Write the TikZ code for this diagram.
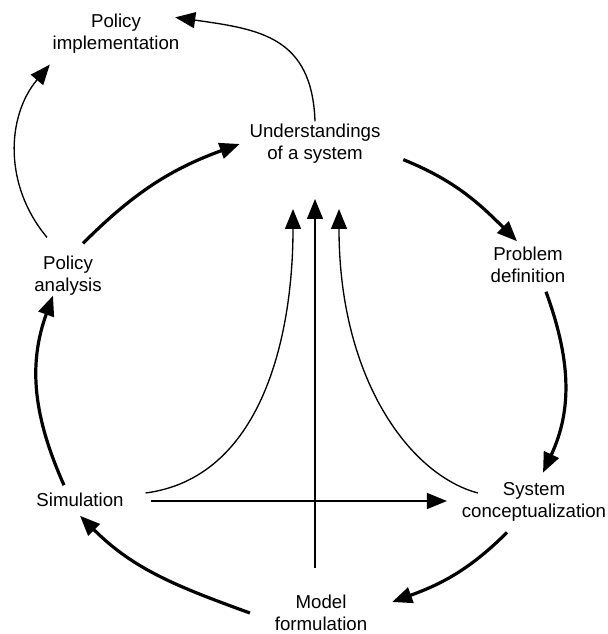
\documentclass[tikz,border=0pt]{standalone}
\usepackage{fontspec}
\setmainfont{Liberation Sans}
\usetikzlibrary{arrows.meta}

\begin{document}
\begin{tikzpicture}[x=0.75pt,y=-0.75pt,
  lbl/.style={align=center,inner sep=2pt,font=\fontsize{14}{16.5}\selectfont},
  minor/.style={line width=1pt,-{Triangle[length=15pt,width=12pt]}},
  major/.style={line width=2.4pt,-{Triangle[length=15pt,width=12pt]}}]
\useasboundingbox (0,0) rectangle (607,634);
\node[lbl] (impl) at (116,34) {Policy\\implementation};
\node[lbl] (under) at (315,144) {Understandings\\of a system};
\node[lbl] (prob) at (528,265) {Problem\\definition};
\node[lbl] (concept) at (534,502) {System\\conceptualization};
\node[lbl] (model) at (321,613) {Model\\formulation};
\node[lbl] (sim) at (80,500) {Simulation};
\node[lbl] (anal) at (68,276) {Policy\\analysis};
\coordinate (vtop) at (315,199);
\coordinate (vbot) at (315,568);
\coordinate (ltop) at (293,209);
\coordinate (rtop) at (339,209);
\draw[major] ([shift={(15,-10)}]anal.north) to[out=45,in=200] ([shift={(-7,0)}]under.west);
\draw[major] ([shift={(20,-7)}]under.south east) to[out=-22,in=135] ([shift={(-11,-3)}]prob.north);
\draw[major] ([shift={(18,6)}]prob.south) to[out=-70,in=65] ([shift={(9,-7)}]concept.north);
\draw[major] ([shift={(-27,8)}]concept.south) to[out=225,in=20] ([shift={(22,-11)}]model.east);
\draw[major] ([shift={(-22,0)}]model.west) to[out=160,in=-45] ([shift={(0,6)}]sim.south);
\draw[major] ([shift={(-16,-5)}]sim.north) to[out=114,in=-110] ([shift={(-15,-3)}]anal.south);
\draw[minor] (under.north) to[out=92,in=-8,looseness=1.25] ([shift={(-7,6)}]impl.north east);
\draw[minor] ([shift={(-21,-16)}]anal.north) to[out=130,in=230] ([shift={(0,8)}]impl.south west);
\draw[minor] (vbot) -- (vtop);
\draw[minor] ([shift={(24,1)}]sim.east) -- ([shift={(-12,-1)}]concept.west);
\draw[minor] ([shift={(19,-7)}]sim.east) .. controls +(115,-15) and +(0,130) .. (ltop);
\draw[minor] ([shift={(19,-9)}]concept.west) .. controls +(-68,-18) and +(0,170) .. (rtop);
\end{tikzpicture}
\end{document}
